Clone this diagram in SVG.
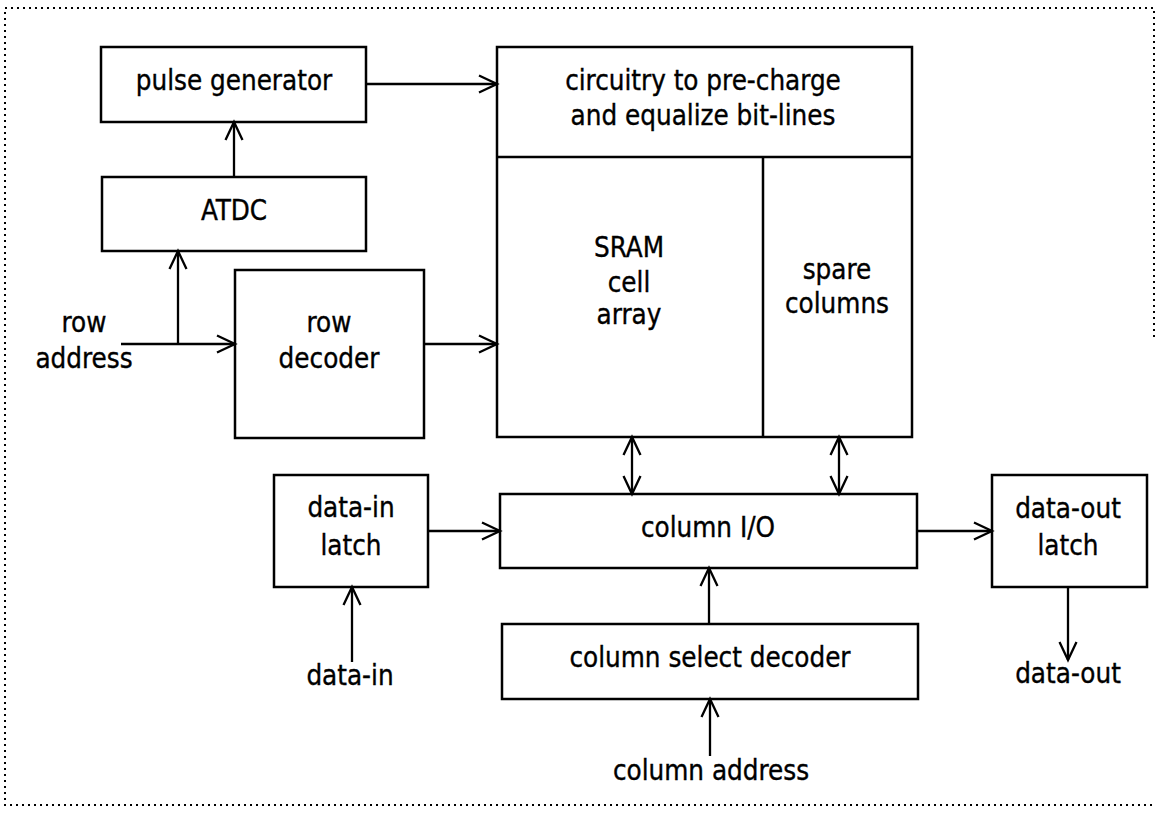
<svg xmlns="http://www.w3.org/2000/svg" width="1156" height="813" viewBox="0 0 1156 813">
  <style>
    .box { fill: #fff; stroke: #000; stroke-width: 2.5; }
    .div { stroke: #000; stroke-width: 2.5; fill: none; }
    .wire { stroke: #000; stroke-width: 2.3; fill: none; }
    .frame { stroke: #000; stroke-width: 2; fill: none; stroke-dasharray: 2 4; }
    text { font-family: "DejaVu Sans Condensed", "DejaVu Sans", sans-serif; font-stretch: condensed; font-size: 27.5px; fill: #000; stroke: #000; stroke-width: 0.35; text-anchor: middle; }
  </style>
  <defs>
    <marker id="head" markerUnits="userSpaceOnUse" markerWidth="22" markerHeight="22" refX="18" refY="9" orient="auto-start-reverse" overflow="visible">
      <path d="M0,0.5 L18,9 L0,17.5" fill="none" stroke="#000" stroke-width="2.3"/>
    </marker>
  </defs>

  <rect width="1156" height="813" fill="#fff"/>

  <!-- dotted outer frame -->
  <path class="frame" d="M1154,337 V8 H5 V805 H1152"/>

  <g id="pulse-generator">
    <rect class="box" x="101" y="47" width="265" height="75"/>
    <text x="234" y="90">pulse generator</text>
  </g>

  <g id="atdc">
    <rect class="box" x="102" y="177" width="264" height="74"/>
    <text x="234" y="220">ATDC</text>
  </g>

  <g id="row-address">
    <text x="84" y="332">row</text>
    <text x="84" y="368">address</text>
  </g>

  <g id="row-decoder">
    <rect class="box" x="235" y="270" width="189" height="168"/>
    <text x="329" y="332">row</text>
    <text x="329" y="368">decoder</text>
  </g>

  <g id="array-block">
    <rect class="box" x="497" y="47" width="415" height="390"/>
    <line class="div" x1="497" y1="157" x2="912" y2="157"/>
    <line class="div" x1="763" y1="157" x2="763" y2="437"/>
    <g id="precharge">
      <text x="703" y="90">circuitry to pre-charge</text>
      <text x="703" y="125">and equalize bit-lines</text>
    </g>
    <g id="sram-cell-array">
      <text x="629" y="257">SRAM</text>
      <text x="629" y="292">cell</text>
      <text x="629" y="324">array</text>
    </g>
    <g id="spare-columns">
      <text x="837" y="279">spare</text>
      <text x="837" y="313">columns</text>
    </g>
  </g>

  <g id="data-in-latch">
    <rect class="box" x="274" y="475" width="154" height="112"/>
    <text x="351" y="517">data-in</text>
    <text x="351" y="555">latch</text>
  </g>

  <g id="column-io">
    <rect class="box" x="500" y="494" width="417" height="74"/>
    <text x="708" y="537">column I/O</text>
  </g>

  <g id="column-select-decoder">
    <rect class="box" x="502" y="624" width="416" height="75"/>
    <text x="710" y="667">column select decoder</text>
  </g>

  <g id="data-out-latch">
    <rect class="box" x="992" y="475" width="155" height="112"/>
    <text x="1068" y="518">data-out</text>
    <text x="1068" y="555">latch</text>
  </g>

  <g id="data-in">
    <text x="350" y="685">data-in</text>
  </g>

  <g id="data-out">
    <text x="1068" y="683">data-out</text>
  </g>

  <g id="column-address">
    <text x="711" y="780">column address</text>
  </g>

  <g id="connectors">
    <path class="wire" d="M366,84 H497" marker-end="url(#head)"/>
    <path class="wire" d="M234,177 V122" marker-end="url(#head)"/>
    <path class="wire" d="M121,344 H235" marker-end="url(#head)"/>
    <path class="wire" d="M178,344 V251" marker-end="url(#head)"/>
    <path class="wire" d="M424,344 H497" marker-end="url(#head)"/>
    <path class="wire" d="M632,437 V494" marker-start="url(#head)" marker-end="url(#head)"/>
    <path class="wire" d="M839,437 V494" marker-start="url(#head)" marker-end="url(#head)"/>
    <path class="wire" d="M428,531 H500" marker-end="url(#head)"/>
    <path class="wire" d="M917,531 H992" marker-end="url(#head)"/>
    <path class="wire" d="M709,624 V568" marker-end="url(#head)"/>
    <path class="wire" d="M710,756 V699" marker-end="url(#head)"/>
    <path class="wire" d="M352,662 V587" marker-end="url(#head)"/>
    <path class="wire" d="M1068,587 V660" marker-end="url(#head)"/>
  </g>
</svg>
